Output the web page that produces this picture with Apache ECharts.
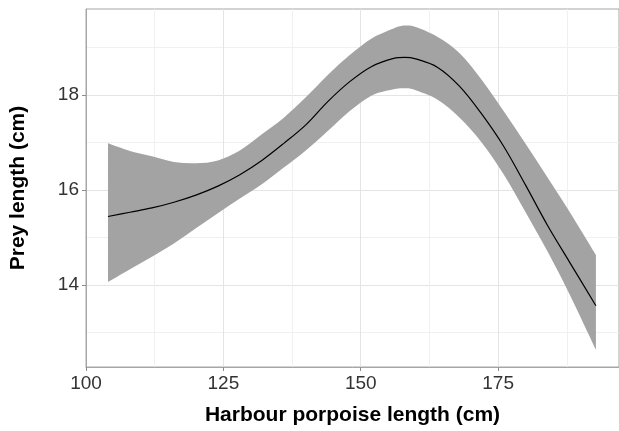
<!DOCTYPE html>
<html>
<head>
<meta charset="utf-8">
<script src="https://cdn.jsdelivr.net/npm/echarts@6/dist/echarts.min.js"></script>
<style>
html,body{margin:0;padding:0;background:#fff;}
#chart{width:619px;height:431px;}
</style>
</head>
<body>
<div id="chart"></div>
<script>
// Harbour porpoise length (cm)
const xValues = [104, 108, 112, 116, 120, 124, 128, 132, 136, 140, 144, 148, 152, 156, 158, 160, 164, 168, 172, 176, 180, 184, 188, 192.8];
// fitted prey length (cm)
const fitValues = [15.44, 15.53, 15.62, 15.74, 15.89, 16.08, 16.32, 16.62, 16.98, 17.37, 17.86, 18.28, 18.60, 18.77, 18.79, 18.76, 18.58, 18.18, 17.60, 16.92, 16.10, 15.25, 14.48, 13.56];
// upper confidence limit
const upperValues = [16.98, 16.82, 16.71, 16.59, 16.56, 16.62, 16.83, 17.17, 17.52, 17.95, 18.42, 18.84, 19.19, 19.40, 19.46, 19.43, 19.22, 18.88, 18.32, 17.66, 16.97, 16.26, 15.54, 14.63];
// lower confidence limit
const lowerValues = [14.06, 14.33, 14.59, 14.87, 15.19, 15.51, 15.82, 16.12, 16.47, 16.83, 17.24, 17.66, 17.99, 18.12, 18.14, 18.10, 17.90, 17.52, 17.00, 16.33, 15.53, 14.70, 13.80, 12.63];
const xTicks = [100, 125, 150, 175];
const yTicks = [14, 16, 18];
const xTitle = 'Harbour porpoise length (cm)';
const yTitle = 'Prey length (cm)';

const bandData = xValues.map((x, i) => [x, lowerValues[i], upperValues[i]]);
const fitData = xValues.map((x, i) => [x, fitValues[i]]);

const FONT = '"Liberation Sans", Arial, sans-serif';
const chart = echarts.init(document.getElementById('chart'), null, {renderer: 'canvas'});

// Catmull-Rom style cubic segments through screen points (rendering only)
function smoothSegments(p, t) {
  let d = '';
  for (let i = 0; i < p.length - 1; i++) {
    const p0 = p[Math.max(0, i - 1)], p1 = p[i], p2 = p[i + 1], p3 = p[Math.min(p.length - 1, i + 2)];
    const c1x = p1[0] + (p2[0] - p0[0]) * t, c1y = p1[1] + (p2[1] - p0[1]) * t;
    const c2x = p2[0] - (p3[0] - p1[0]) * t, c2y = p2[1] - (p3[1] - p1[1]) * t;
    d += ' C' + c1x + ' ' + c1y + ' ' + c2x + ' ' + c2y + ' ' + p2[0] + ' ' + p2[1];
  }
  return d;
}

function renderBand(params, api) {
  if (params.dataIndex !== 0) return null;
  const upper = [], lower = [];
  for (let i = 0; i < bandData.length; i++) {
    upper.push(api.coord([bandData[i][0], bandData[i][2]]));
    lower.push(api.coord([bandData[i][0], bandData[i][1]]));
  }
  lower.reverse();
  let d = 'M' + upper[0][0] + ' ' + upper[0][1];
  d += smoothSegments(upper, 1 / 6);
  d += ' L' + lower[0][0] + ' ' + lower[0][1];
  d += smoothSegments(lower, 1 / 6);
  d += ' Z';
  return {type: 'path', shape: {pathData: d}, style: {fill: '#a3a3a3', stroke: null}};
}

chart.setOption({
  animation: false,
  backgroundColor: '#ffffff',
  grid: {left: 82.5, right: -2, top: 9, bottom: 64, show: true, borderColor: '#a6a6a6', borderWidth: 1, backgroundColor: 'transparent'},
  xAxis: {
    type: 'value', min: 100, max: 197, interval: 25,
    name: xTitle, nameLocation: 'middle', nameGap: 38,
    nameTextStyle: {fontFamily: FONT, fontSize: 21, fontWeight: 'bold', color: '#000'},
    axisLine: {show: true, lineStyle: {color: '#a6a6a6', width: 1}},
    axisTick: {show: true, length: 4, customValues: xTicks, lineStyle: {color: '#8c8c8c'}},
    axisLabel: {customValues: xTicks, fontFamily: FONT, fontSize: 19, color: '#333333', margin: 7},
    splitLine: {show: true, lineStyle: {color: '#e4e4e4', width: 1}},
    minorTick: {show: false, splitNumber: 2},
    minorSplitLine: {show: true, lineStyle: {color: '#f0f0f0', width: 1}}
  },
  yAxis: {
    type: 'value', min: 12.27, max: 19.81,
    name: yTitle, nameLocation: 'middle', nameGap: 57,
    nameTextStyle: {fontFamily: FONT, fontSize: 21, fontWeight: 'bold', color: '#000'},
    axisLine: {show: true, lineStyle: {color: '#a6a6a6', width: 1}},
    axisTick: {show: true, length: 4, customValues: yTicks, lineStyle: {color: '#8c8c8c'}},
    axisLabel: {customValues: yTicks, fontFamily: FONT, fontSize: 19, color: '#333333', margin: 7},
    splitLine: {show: true, lineStyle: {color: '#e4e4e4', width: 1}},
    minorTick: {show: false, splitNumber: 2},
    minorSplitLine: {show: true, lineStyle: {color: '#f0f0f0', width: 1}}
  },
  series: [
    {type: 'custom', data: bandData, encode: {x: 0, y: [1, 2]}, renderItem: renderBand, silent: true, z: 2, clip: true},
    {type: 'line', data: fitData, symbol: 'none', smooth: 0.35, lineStyle: {color: '#000000', width: 1.2}, z: 3}
  ]
});
</script>
</body>
</html>
